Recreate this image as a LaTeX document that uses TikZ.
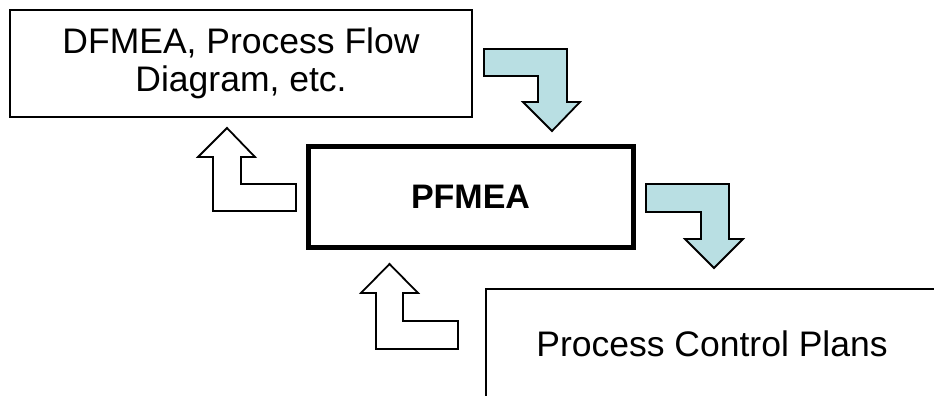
\documentclass[tikz,border=0pt]{standalone}
\usepackage{fontspec}
\setmainfont{Liberation Sans}
\definecolor{flowfill}{RGB}{185,223,227}
\tikzset{
  box/.style={draw=black, fill=white, line width=2pt, align=center,
    font=\fontsize{35.5}{38}\selectfont, inner sep=0pt},
  corebox/.style={box, line width=5pt, font=\fontsize{34}{38}\selectfont\bfseries},
  blockarrow/.style={draw=black, line width=1.8pt, line join=miter},
  outflow/.style={blockarrow, fill=flowfill},
  inflow/.style={blockarrow, fill=white}
}
\begin{document}
\begin{tikzpicture}[x=1pt, y=-1pt]
  \clip (0,0) rectangle (934,396);
  \fill[white] (0,0) rectangle (934,396);

  % the three blocks
  \node[box, minimum width=462pt, minimum height=107pt] (inputs) at (241,63.5)
    {DFMEA, Process Flow\\Diagram, etc.};
  \node[corebox, minimum width=325pt, minimum height=101pt] (pfmea) at (470.5,196.5)
    {PFMEA};
  \node[box, anchor=north west, minimum width=452pt, minimum height=110pt] (plans) at (485,288)
    {Process Control Plans};

  % block arrows: inputs feed the PFMEA, the PFMEA feeds the control plans
  \draw[outflow] (484,49) -- (567,49) -- (567,102) -- (580,102) -- (552,131)
    -- (523,102) -- (538,102) -- (538,76) -- (484,76) -- cycle;
  \draw[outflow] (646,184) -- (729,184) -- (729,239) -- (743,239) -- (714,268)
    -- (685,239) -- (701,239) -- (701,212) -- (646,212) -- cycle;

  % feedback arrows back up the chain
  \draw[inflow] (213,211) -- (296,211) -- (296,184) -- (241,184) -- (241,157)
    -- (255,157) -- (227,128) -- (198,157) -- (213,157) -- cycle;
  \draw[inflow] (376,349) -- (458,349) -- (458,321) -- (403,321) -- (403,293)
    -- (418,293) -- (389.5,264) -- (361,293) -- (376,293) -- cycle;
\end{tikzpicture}
\end{document}
